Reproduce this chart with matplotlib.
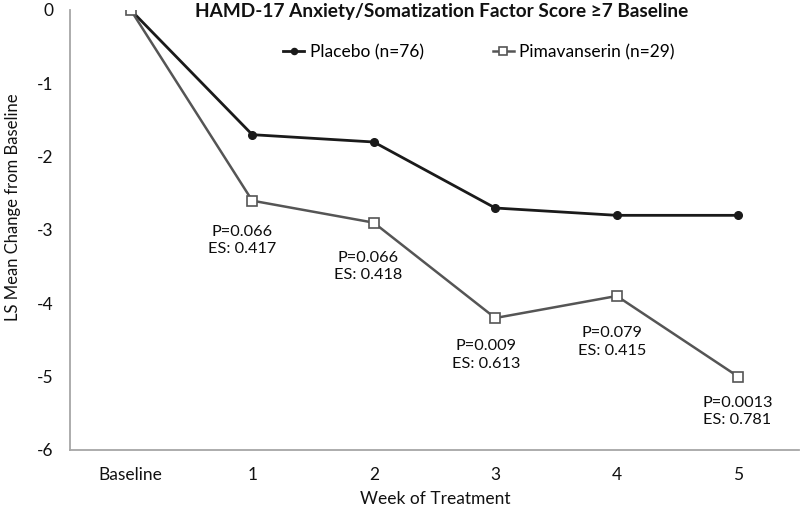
import matplotlib
matplotlib.use("Agg")
import matplotlib.pyplot as plt

plt.rcParams['font.family'] = ['Lato', 'DejaVu Sans']

categories = ["Baseline", "1", "2", "3", "4", "5"]
placebo = [0, -1.7, -1.8, -2.7, -2.8, -2.8]
pimavanserin = [0, -2.6, -2.9, -4.2, -3.9, -5.0]
ann_weeks = [1, 2, 3, 4, 5]
ann_texts = ["P=0.066\nES: 0.417", "P=0.066\nES: 0.418", "P=0.009\nES: 0.613",
             "P=0.079\nES: 0.415", "P=0.0013\nES: 0.781"]
ann_offsets = [(-10, -40), (-6, -44), (-9, -37), (-5, -46), (-1, -35)]

fig = plt.figure(figsize=(8.0, 5.07), dpi=100)
ax = fig.add_axes([70/800, 1-450/507, 729/800, 440/507])

x = list(range(len(categories)))
ax.plot(x, placebo, color='#1a1a1a', lw=2.0, marker='o', ms=5.5,
        mfc='#1a1a1a', mec='#1a1a1a', label='Placebo (n=76)', zorder=3)
ax.plot(x, pimavanserin, color='#555555', lw=1.8, marker='s', ms=7,
        mfc='white', mec='#555555', mew=1.2, label='Pimavanserin (n=29)', zorder=3)

for w, t, off in zip(ann_weeks, ann_texts, ann_offsets):
    ax.annotate(t, xy=(w, pimavanserin[w]), xytext=off, textcoords='offset pixels',
                ha='center', va='center', fontsize=11.7, color='#0d0d0d',
                linespacing=1.3)

ax.set_xlim(-0.5, 5.5)
ax.set_ylim(-6, 0)
ax.set_xticks(x)
ax.set_xticklabels(categories)
ax.set_yticks([0, -1, -2, -3, -4, -5, -6])
ax.set_yticklabels(["0", "-1", "-2", "-3", "-4", "-5", "-6"])
ax.tick_params(axis='both', length=0, labelsize=12.5, colors='#111111')
ax.tick_params(axis='x', pad=12.5)
ax.tick_params(axis='y', pad=12)
for s in ['top', 'right']:
    ax.spines[s].set_visible(False)
for s in ['left', 'bottom']:
    ax.spines[s].set_color('#a6a6a6')
    ax.spines[s].set_linewidth(1.3)

fig.text(435/800, 1-499/507, "Week of Treatment", ha='center', va='center',
         fontsize=12.5, color='#111111')
fig.text(13/800, 1-207/507, "LS Mean Change from Baseline", ha='center', va='center',
         rotation=90, fontsize=12, color='#111111')

fig.text(442/800, 1-12/507, "HAMD-17 Anxiety/Somatization Factor Score ≥7 Baseline",
         ha='center', va='center', fontsize=13.7, fontweight='bold', color='#111111')

ax.legend(loc='center', bbox_to_anchor=(479/800, 1-52/507), bbox_transform=fig.transFigure,
          ncol=2, frameon=False, fontsize=12.5, handlelength=1.2, handletextpad=0.3,
          columnspacing=4.0, markerscale=0.8)

fig.savefig("out.png", dpi=100, facecolor='white')
